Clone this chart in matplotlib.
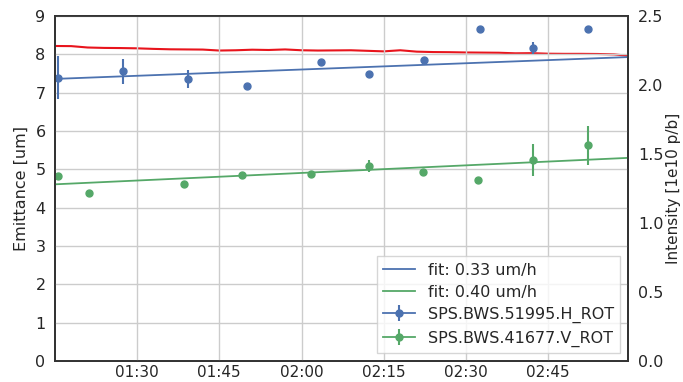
import datetime as dt
import matplotlib
matplotlib.use("Agg")
import matplotlib.pyplot as plt
import matplotlib.dates as mdates

# ---- data ----
base = dt.datetime(2017, 1, 1, 1, 15, 0)

h_minutes = [0.55, 12.5, 24.3, 35.0, 48.5, 57.3, 67.4, 77.6, 87.3, 97.3]
h_values = [7.39, 7.56, 7.35, 7.18, 7.80, 7.50, 7.85, 8.66, 8.17, 8.66]
h_errors = [0.56, 0.33, 0.23, 0.02, 0.03, 0.03, 0.03, 0.02, 0.15, 0.08]

v_minutes = [0.6, 6.26, 23.5, 34.1, 46.8, 57.3, 67.1, 77.1, 87.2, 97.3]
v_values = [4.83, 4.39, 4.61, 4.84, 4.89, 5.09, 4.93, 4.71, 5.24, 5.63]
v_errors = [0.05, 0.02, 0.02, 0.03, 0.03, 0.15, 0.03, 0.02, 0.41, 0.51]

fit_minutes = [0.1, 104.6]
fit_h = [7.36, 7.93]
fit_v = [4.61, 5.30]
fit_h_label = "fit: 0.33 um/h"
fit_v_label = "fit: 0.40 um/h"

int_minutes = [0.1, 3, 6, 9, 12, 15, 18, 21, 24, 27, 30, 33, 36, 39, 42, 45,
               48, 51, 54, 57, 60, 63, 66, 69, 72, 75, 78, 81, 84, 87, 90,
               93, 96, 99, 102, 104.6]
int_values = [2.283, 2.282, 2.272, 2.269, 2.268, 2.266, 2.262, 2.259, 2.258,
              2.257, 2.250, 2.252, 2.256, 2.254, 2.258, 2.252, 2.250, 2.251,
              2.252, 2.248, 2.244, 2.252, 2.242, 2.239, 2.238, 2.236, 2.235,
              2.234, 2.230, 2.231, 2.227, 2.226, 2.226, 2.225, 2.222, 2.212]

h_label = "SPS.BWS.51995.H_ROT"
v_label = "SPS.BWS.41677.V_ROT"


def to_t(mins):
    return [base + dt.timedelta(minutes=m) for m in mins]


BLUE = "#4C72B0"
GREEN = "#55A868"
RED = "#E8141C"
TXT = "#262626"

plt.rcParams["font.family"] = ["DejaVu Sans"]
plt.rcParams["font.size"] = 11.5

fig = plt.figure(figsize=(6.83, 3.82), dpi=100)
ax = fig.add_axes([0.081, 0.055, 0.839, 0.903])
ax2 = ax.twinx()

ax.set_zorder(ax2.get_zorder() + 1)
ax.patch.set_visible(False)

ax.plot(to_t(fit_minutes), fit_h, color=BLUE, lw=1.3, label=fit_h_label)
ax.plot(to_t(fit_minutes), fit_v, color=GREEN, lw=1.3, label=fit_v_label)
eh = ax.errorbar(to_t(h_minutes), h_values, yerr=h_errors, fmt="-o", color=BLUE,
                 ms=5, elinewidth=1.5, lw=1.3, capsize=0, label=h_label)
ev = ax.errorbar(to_t(v_minutes), v_values, yerr=v_errors, fmt="-o", color=GREEN,
                 ms=5, elinewidth=1.5, lw=1.3, capsize=0, label=v_label)

ax2.plot(to_t(int_minutes), int_values, color=RED, lw=1.5)

ax.set_xlim(to_t(fit_minutes)[0], to_t(fit_minutes)[1])
ax.set_ylim(0, 9)
ax2.set_ylim(0, 2.5)
ax.set_yticks(range(0, 10))
ax2.set_yticks([0.0, 0.5, 1.0, 1.5, 2.0, 2.5])
ax2.set_yticklabels(["0.0", "0.5", "1.0", "1.5", "2.0", "2.5"])

ax.xaxis.set_major_locator(mdates.MinuteLocator(byminute=[0, 15, 30, 45]))
ax.xaxis.set_major_formatter(mdates.DateFormatter("%H:%M"))

ax.grid(True, color="#cccccc", lw=1.0)
ax2.grid(False)
ax.set_axisbelow(True)

for a in (ax, ax2):
    a.tick_params(length=0, colors=TXT, labelsize=11.5)
    for s in a.spines.values():
        s.set_color("#333333")
        s.set_linewidth(1.3)
ax.tick_params(axis="y", pad=7)
ax.tick_params(axis="x", pad=3, labelsize=11)
ax2.tick_params(axis="y", pad=7)

ax.set_ylabel("Emittance [um]", color=TXT, fontsize=11.5, labelpad=5)
ax2.set_ylabel("Intensity [1e10 p/b]", color=TXT, fontsize=11, labelpad=2)

leg = ax.legend(loc="lower right", fontsize=11.5, frameon=True, framealpha=0.8,
                fancybox=False, borderaxespad=0.5, labelspacing=0.45)
leg.get_frame().set_edgecolor("#cccccc")
for t in leg.get_texts():
    t.set_color(TXT)

# data points are drawn without connecting lines (legend keeps the line)
eh.lines[0].set_linestyle("none")
ev.lines[0].set_linestyle("none")

fig.savefig("out.png", dpi=100)
